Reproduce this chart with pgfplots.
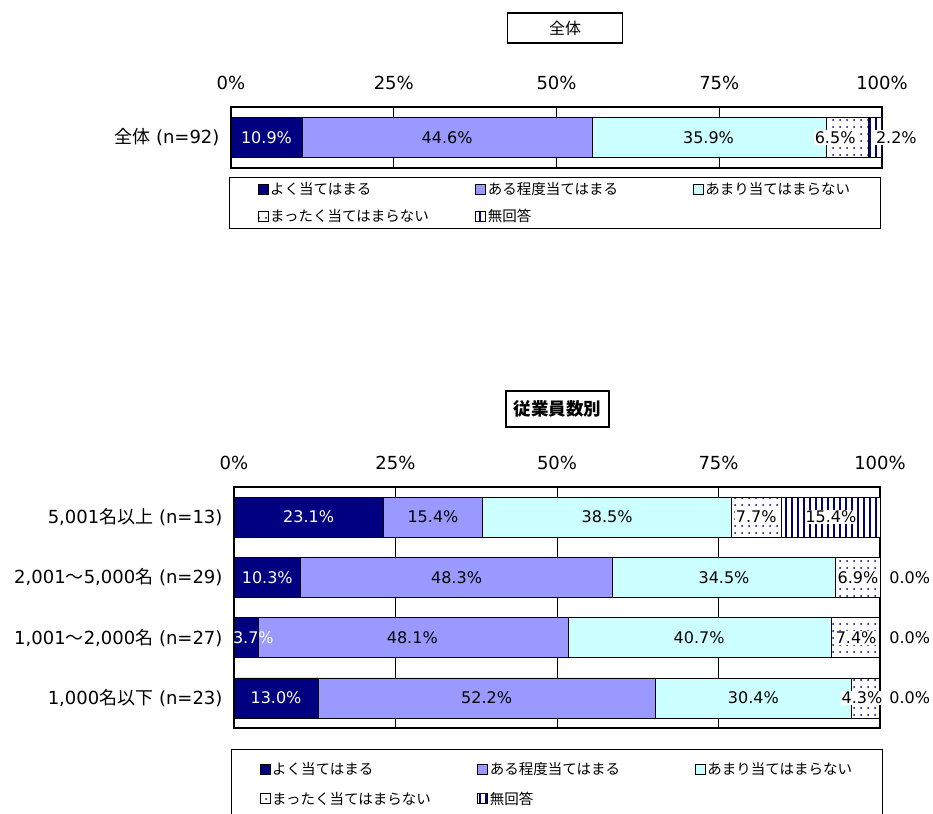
\documentclass[border=0pt]{standalone}
\usepackage{pgfplots}
\pgfplotsset{compat=1.18}
\usetikzlibrary{patterns.meta}
\usepackage{fontspec}
\setmainfont{DejaVu Sans}
\newfontfamily\cjk{Noto Sans CJK JP}
\newcommand\J[1]{{\cjk #1}}
\definecolor{cNavy}{HTML}{000080}
\definecolor{cPurple}{HTML}{9999FF}
\definecolor{cCyan}{HTML}{CCFFFF}

\tikzset{
  lbl/.style={font=\fontsize{16}{18}\selectfont, inner sep=1pt},
  wlbl/.style={lbl, fill=white},
}
\pgfplotsset{
  s1/.style={fill=cNavy, draw=black, line width=0.7pt},
  s2/.style={fill=cPurple, draw=black, line width=0.7pt},
  s3/.style={fill=cCyan, draw=black, line width=0.7pt},
  s4/.style={fill=white, draw=black, line width=0.7pt, postaction={pattern={Dots[distance=7pt,radius=1pt]}, pattern color=cNavy}},
  s5/.style={fill=white, draw=black, line width=0.7pt, postaction={pattern={Lines[angle=90,distance=6pt,line width=1.6pt]}, pattern color=cNavy}},
  base/.style={
    scale only axis,
    xbar stacked, bar width=40pt,
    xmin=0, xmax=100,
    xtick={0,25,50,75,100},
    xticklabels={0\%,25\%,50\%,75\%,100\%},
    xticklabel pos=upper,
    xticklabel style={font=\fontsize{18}{20}\selectfont, yshift=14pt},
    yticklabel style={font=\fontsize{18}{20}\selectfont, xshift=-8pt},
    xmajorgrids, major grid style={black, line width=0.8pt},
    major tick length=0pt,
    axis line style={black, line width=1.2pt},
    clip=false,
    legend columns=3,
    legend cell align=left,
    legend image code/.code={\draw[##1,line width=0.6pt] (0pt,-5pt) rectangle (10pt,5pt);},
    legend style={draw=black, line width=1.2pt, font=\fontsize{14.5}{17}\selectfont\cjk,
      inner xsep=28pt},
  },
}
\newcommand\legtexts{\legend{\makebox[203pt][l]{よく当てはまる},\makebox[203pt][l]{ある程度当てはまる},あまり当てはまらない,まったく当てはまらない,無回答}}

\begin{document}
\begin{tikzpicture}
\useasboundingbox (0pt,0pt) rectangle (933pt,813pt);

% titles
\node[draw=black, line width=1.2pt, minimum width=115pt, minimum height=30pt, inner sep=0pt,
  font=\fontsize{16}{18}\selectfont\cjk] at (565pt,785pt) {全体};
\node[draw=black, line width=1.2pt, minimum width=103pt, minimum height=36pt, inner sep=0pt,
  font=\fontsize{17.5}{19}\selectfont\cjk\bfseries] at (557.5pt,404pt) {従業員数別};

% ---------- top panel ----------
\begin{axis}[base, at={(231pt,645pt)}, anchor=south west, width=651pt, height=61pt,
  ymin=-0.5, ymax=0.5, ytick={0}, yticklabels={\J{全体} (n=92)},
  legend style={at={(0,0)}, anchor=north west, xshift=-2pt, yshift=-9pt,
    inner ysep=3pt, row sep=9pt}]
\addplot[s1] coordinates {(10.9,0)};
\addplot[s2] coordinates {(44.6,0)};
\addplot[s3] coordinates {(35.9,0)};
\addplot[s4] coordinates {(6.5,0)};
\addplot[s5] coordinates {(2.2,0)};
\legtexts
\coordinate (a1) at (axis cs:5.45,0);
\coordinate (a2) at (axis cs:33.2,0);
\coordinate (a3) at (axis cs:73.35,0);
\coordinate (a4) at (axis cs:92.8,0);
\coordinate (a5) at (axis cs:102.2,0);
\end{axis}
\node[lbl, text=white] at (a1) {10.9\%};
\node[lbl] at (a2) {44.6\%};
\node[lbl] at (a3) {35.9\%};
\node[wlbl] at (a4) {6.5\%};
\node[wlbl] at (a5) {2.2\%};

% ---------- bottom panel ----------
\begin{axis}[base, at={(234pt,85pt)}, anchor=south west, width=646pt, height=241pt,
  ymin=-0.5, ymax=3.5, ytick={0,1,2,3},
  yticklabels={{1,000\J{名以下} (n=23)},{1,001\J{～}2,000\J{名} (n=27)},{2,001\J{～}5,000\J{名} (n=29)},{5,001\J{名以上} (n=13)}},
  legend style={at={(0,0)}, anchor=north west, xshift=-3pt, yshift=-21pt,
    inner ysep=11pt, row sep=11.5pt}]
\addplot[s1] coordinates {(13.0,0) (3.7,1) (10.3,2) (23.1,3)};
\addplot[s2] coordinates {(52.2,0) (48.1,1) (48.3,2) (15.4,3)};
\addplot[s3] coordinates {(30.4,0) (40.7,1) (34.5,2) (38.5,3)};
\addplot[s4] coordinates {(4.3,0) (7.4,1) (6.9,2) (7.7,3)};
\addplot[s5] coordinates {(0,0) (0,1) (0,2) (15.4,3)};
\legtexts
\coordinate (b31) at (axis cs:11.55,3);
\coordinate (b32) at (axis cs:30.8,3);
\coordinate (b33) at (axis cs:57.75,3);
\coordinate (b34) at (axis cs:80.85,3);
\coordinate (b35) at (axis cs:92.4,3);
\coordinate (b21) at (axis cs:5.15,2);
\coordinate (b22) at (axis cs:34.45,2);
\coordinate (b23) at (axis cs:75.85,2);
\coordinate (b24) at (axis cs:96.6,2);
\coordinate (b25) at (axis cs:104.6,2);
\coordinate (b11) at (axis cs:3.0,1);
\coordinate (b12) at (axis cs:27.6,1);
\coordinate (b13) at (axis cs:72.0,1);
\coordinate (b14) at (axis cs:96.3,1);
\coordinate (b15) at (axis cs:104.6,1);
\coordinate (b01) at (axis cs:6.5,0);
\coordinate (b02) at (axis cs:39.1,0);
\coordinate (b03) at (axis cs:80.4,0);
\coordinate (b04) at (axis cs:97.2,0);
\coordinate (b05) at (axis cs:104.6,0);
\end{axis}
% row 5,001+
\node[lbl, text=white] at (b31) {23.1\%};
\node[lbl] at (b32) {15.4\%};
\node[lbl] at (b33) {38.5\%};
\node[wlbl] at (b34) {7.7\%};
\node[wlbl] at (b35) {15.4\%};
% row 2,001-5,000
\node[lbl, text=white] at (b21) {10.3\%};
\node[lbl] at (b22) {48.3\%};
\node[lbl] at (b23) {34.5\%};
\node[wlbl] at (b24) {6.9\%};
\node[lbl] at (b25) {0.0\%};
% row 1,001-2,000
\node[lbl, text=white] at (b11) {3.7\%};
\node[lbl] at (b12) {48.1\%};
\node[lbl] at (b13) {40.7\%};
\node[wlbl] at (b14) {7.4\%};
\node[lbl] at (b15) {0.0\%};
% row <=1,000
\node[lbl, text=white] at (b01) {13.0\%};
\node[lbl] at (b02) {52.2\%};
\node[lbl] at (b03) {30.4\%};
\node[wlbl] at (b04) {4.3\%};
\node[lbl] at (b05) {0.0\%};
\end{tikzpicture}
\end{document}
